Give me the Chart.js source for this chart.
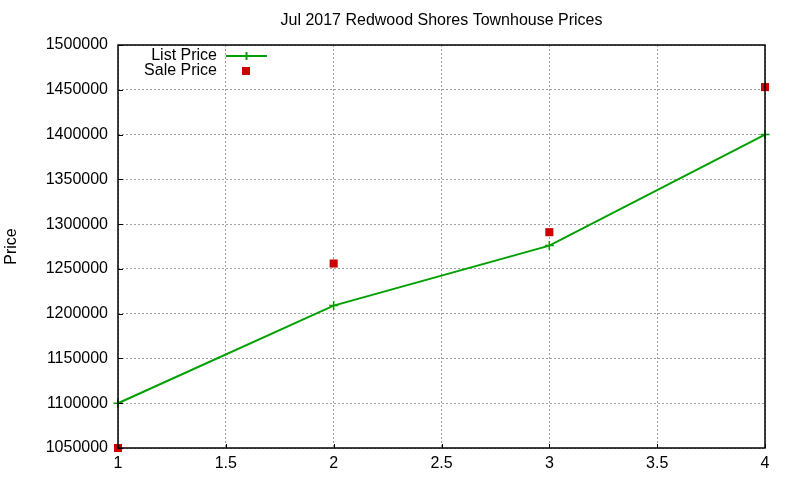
<!DOCTYPE html>
<html>
<head>
<meta charset="utf-8">
<script src="https://cdn.jsdelivr.net/npm/chart.js@4/dist/chart.umd.min.js"></script>
<style>
  html, body { margin: 0; padding: 0; background: #fff; }
  #wrap { width: 800px; height: 480px; }
</style>
</head>
<body>
<div id="wrap"><canvas id="chart"></canvas></div>
<script>
// values
const months = [1, 2, 3, 4];
const listPrices = [1100000, 1209000, 1276000, 1400000];
const salePrices = [1050000, 1256000, 1291000, 1453000];
const xTicks = [1, 1.5, 2, 2.5, 3, 3.5, 4];
const yTicks = [1050000, 1100000, 1150000, 1200000, 1250000, 1300000, 1350000, 1400000, 1450000, 1500000];
const titleText = 'Jul 2017 Redwood Shores Townhouse Prices';

const FONT = "'Liberation Sans', Arial, sans-serif";
Chart.defaults.font.family = FONT;
Chart.defaults.font.size = 16;
Chart.defaults.color = '#000';

// border box, inward ticks, title and gnuplot-like legend
const frame = {
   id: 'frame',
   afterDatasetsDraw(chart) {
      const ctx = chart.ctx;
      const a = chart.chartArea;
      const xs = chart.scales.x, ys = chart.scales.y;
      ctx.save();
      ctx.strokeStyle = '#000';
      ctx.lineWidth = 1;
      ctx.beginPath();
      xTicks.forEach(v => {
         const px = Math.round(xs.getPixelForValue(v)) + 0.5;
         ctx.moveTo(px, a.bottom);
         ctx.lineTo(px, a.bottom - 4);
      });
      yTicks.forEach(v => {
         const py = Math.round(ys.getPixelForValue(v)) + 0.5;
         ctx.moveTo(a.left, py);
         ctx.lineTo(a.left + 5, py);
      });
      ctx.stroke();
      ctx.lineWidth = 1.5;
      ctx.strokeRect(a.left, a.top, a.right - a.left, a.bottom - a.top);

      // title, centred over the plot area
      ctx.font = '16px ' + FONT;
      ctx.fillStyle = '#000';
      ctx.textAlign = 'center';
      ctx.textBaseline = 'middle';
      ctx.fillText(titleText, (a.left + a.right) / 2, 21);

      // legend
      const ds = chart.data.datasets;
      ctx.textAlign = 'right';
      const textRight = 217, sx0 = 226, sx1 = 267;
      ctx.fillText(ds[0].label, textRight, 56);
      ctx.fillText(ds[1].label, textRight, 71);
      ctx.strokeStyle = ds[0].borderColor;
      ctx.lineWidth = 2;
      ctx.beginPath();
      ctx.moveTo(sx0, 56); ctx.lineTo(sx1, 56);
      ctx.moveTo((sx0 + sx1) / 2, 52); ctx.lineTo((sx0 + sx1) / 2, 60);
      ctx.stroke();
      ctx.fillStyle = ds[1].backgroundColor;
      ctx.fillRect(242, 67, 8, 8);
      ctx.restore();
   }
};

new Chart(document.getElementById('chart'), {
   type: 'scatter',
   data: {
      datasets: [
         {
            label: 'List Price',
            data: months.map((m, i) => ({ x: m, y: listPrices[i] })),
            showLine: true,
            borderColor: '#00a000',
            backgroundColor: '#00a000',
            borderWidth: 2,
            pointStyle: 'cross',
            pointRadius: 4.5,
            pointBorderWidth: 1.5,
            clip: false
         },
         {
            label: 'Sale Price',
            data: months.map((m, i) => ({ x: m, y: salePrices[i] })),
            showLine: false,
            borderColor: '#cc0000',
            backgroundColor: '#cc0000',
            pointStyle: 'rect',
            pointRadius: 5.7,
            pointBorderWidth: 0,
            clip: false
         }
      ]
   },
   options: {
      responsive: true,
      maintainAspectRatio: false,
      animation: false,
      layout: { padding: { left: 0, right: 35, top: 45, bottom: 0 } },
      plugins: {
         legend: { display: false },
         tooltip: { enabled: false },
         title: { display: false }
      },
      scales: {
         x: {
            type: 'linear',
            min: 1,
            max: 4,
            afterBuildTicks: s => { s.ticks = xTicks.map(v => ({ value: v })); },
            afterFit: s => { s.height = 32; },
            ticks: { padding: 6, font: { size: 16 }, callback: v => String(v) },
            grid: { color: '#a0a0a0', lineWidth: 1, drawTicks: false },
            border: { display: false, dash: [2, 2] }
         },
         y: {
            type: 'linear',
            min: 1050000,
            max: 1500000,
            afterBuildTicks: s => { s.ticks = yTicks.map(v => ({ value: v })); },
            afterFit: s => { s.width = 118; },
            ticks: { padding: 10, font: { size: 16 }, callback: v => String(v) },
            grid: { color: '#a0a0a0', lineWidth: 1, drawTicks: false },
            border: { display: false, dash: [2, 2] },
            title: {
               display: true,
               text: 'Price',
               font: { size: 16 },
               padding: { top: 2.4, bottom: 0 }
            }
         }
      }
   },
   plugins: [frame]
});
</script>
</body>
</html>
